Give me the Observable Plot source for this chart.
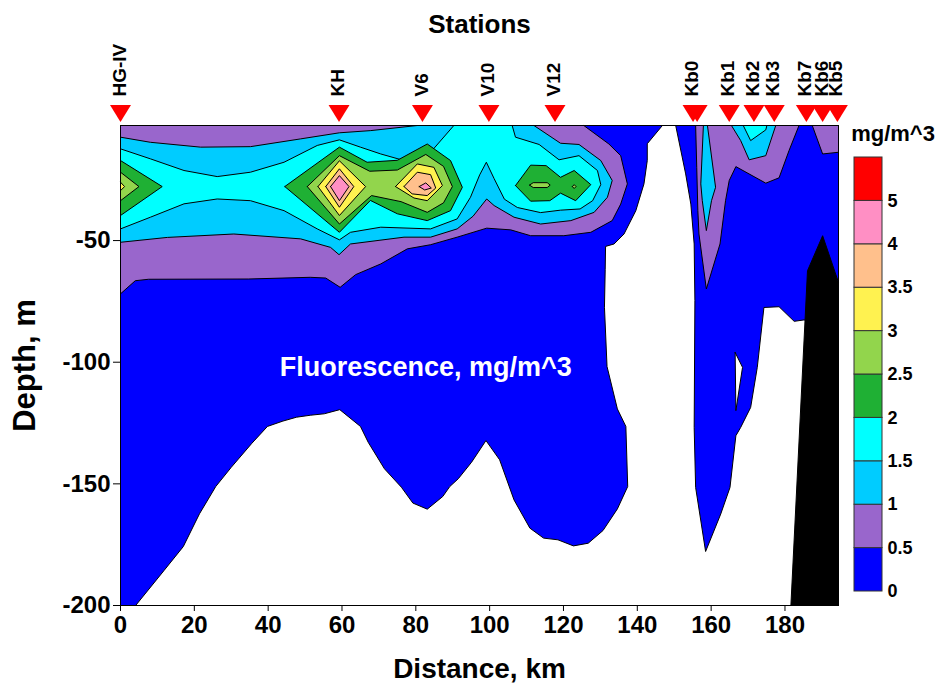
<!DOCTYPE html>
<html><head><meta charset="utf-8">
<script src="https://cdn.jsdelivr.net/npm/d3@7"></script>
<script src="https://cdn.jsdelivr.net/npm/@observablehq/plot@0.6"></script>
<style>
body{margin:0;background:#fff;}
#wrap{position:relative;width:939px;height:683px;font-family:"Liberation Sans",Arial,sans-serif;}
#wrap svg{position:absolute;top:0;}
</style></head><body><div id="wrap"></div>
<script>
// ---- legend / levels ----
const levelLabels = ["0","0.5","1","1.5","2","2.5","3","3.5","4","5"];
const levelColors = ["#0000ff","#9966cc","#00ccff","#00ffff","#1fb034","#92d54c","#fff250","#ffc08c","#ff8fc4","#ff0000"];
// ---- stations ----
const stationNames = ["HG-IV","KH","V6","V10","V12","Kb0","","Kb1","Kb2","Kb3","Kb7","Kb6","Kb5"];
const stationKm    = [0, 59.2, 81.8, 99.8, 117.7, 155.1, 156.2, 164.9, 171.6, 177.1, 185.8, 190.2, 194.2];
// ---- ticks ----
const xTicks = [0,20,40,60,80,100,120,140,160,180];
const yTicks = [-50,-100,-150,-200];
const xDomain = [0,194.5];
const yDomain = [-200,-2.7];
// ---- contour polygons [km, depth] ----
const blueMain = [[0,-2.7],[146.8,-2.7],[142.7,-10.2],[142.7,-17.1],[141.8,-26.7],[139.6,-37.7],[136.4,-47.3],[133.7,-51.4],[131.4,-52.4],[131.3,-62],[131.1,-77.4],[131.8,-101.8],[134.6,-119.2],[136.9,-126.4],[137.4,-151.1],[134.6,-160.3],[130.7,-169.2],[126.7,-174.4],[122.7,-175.5],[118.5,-173.0],[114.6,-172.3],[110.9,-168.2],[106.6,-156.6],[102.7,-140.1],[99.0,-132.2],[95.1,-141.1],[91.5,-147.9],[89.2,-151.1],[87.3,-155.2],[83.1,-160.4],[79.2,-157.9],[76.1,-151.4],[71.5,-143.8],[67.1,-132.9],[65.0,-126.4],[59.4,-119.5],[55.2,-121.2],[51.4,-121.8],[47.7,-122.6],[44.0,-124.2],[39.8,-126.4],[35.6,-133.3],[30.0,-143.2],[25.8,-151.1],[21.4,-162.3],[17.0,-175.8],[11.8,-185.6],[4.1,-200],[0,-200]];
const blueEast = [[150.4,-2.7],[194.5,-2.7],[194.5,-90],[185.2,-82.6],[182.5,-83.2],[178.4,-77.2],[174.3,-77.5],[172.5,-102.1],[170.7,-118.6],[168.0,-126.8],[166.7,-130.2],[165.1,-151.5],[162.6,-162.4],[158.5,-177.8],[155.8,-151.5],[155.4,-126.8],[155.6,-74.7],[155.4,-51.4],[154.5,-35],[153.1,-22.6]];
const holeEast = [[166.5,-96.0],[168.5,-102.1],[166.7,-119.9]];
const purpleMain = [[0,-2.7],[125.5,-2.7],[132.3,-10.3],[135.5,-15.1],[137.3,-26.7],[135.5,-35.0],[133.2,-41.8],[127.4,-46.6],[120.1,-48.0],[111.1,-48.0],[105.7,-45.6],[99.2,-44.9],[91.2,-48.6],[84.0,-51.7],[77.7,-53.4],[70.5,-59.6],[63.7,-64.0],[59.5,-69.2],[55.6,-65.4],[51.4,-65.1],[34.6,-65.8],[7.6,-65.9],[4.0,-66.5],[0,-71.9]];
const purpleKb = [[155.8,-2.7],[183.8,-2.7],[181.1,-13.0],[178.4,-24.2],[174.8,-26.4],[166.7,-19.6],[164.9,-25.3],[163.9,-33.6],[162.4,-51.4],[158.7,-69.9],[156.7,-47.3],[156.4,-37.7],[156.1,-19.9]];
const purpleKb5 = [[187.4,-2.7],[194.5,-2.7],[194.5,-13.7],[190.2,-14.4]];
const lblueMain = [[0,-7.5],[8.1,-9.6],[21.7,-11.6],[35.2,-11.4],[48.8,-8.2],[59.3,-5.7],[67.8,-4.8],[80.4,-2.7],[112.0,-2.7],[119.2,-10.0],[124.2,-10.5],[130.1,-17.1],[133.2,-25.3],[131.9,-32.2],[128.3,-38.4],[122.0,-41.8],[113.8,-43.2],[106.6,-40.4],[101.2,-35.6],[99.2,-32.9],[95.5,-40.0],[91.2,-45.2],[84.0,-48.6],[76.8,-48.6],[62.3,-51.4],[59.2,-55.8],[56.9,-52.8],[48.8,-49.3],[30.7,-47.3],[12.7,-48.7],[0,-50.7]];
const lblueKb0 = [[157.9,-2.7],[159.0,-2.7],[161.2,-28.1],[160.1,-33.6],[158.7,-45.9],[157.6,-33.6],[157.2,-26.7]];
const lblueKb2 = [[165.5,-2.7],[168.0,-8.9],[170.3,-16.8],[174.8,-15.1],[177.5,-2.7]];
const cyanMain = [[0,-12.3],[8.1,-16.4],[17.2,-21.2],[26.2,-23.7],[35.2,-21.9],[44.3,-17.8],[53.3,-10.9],[59.3,-8.6],[65.0,-11.6],[70.5,-14.4],[76.8,-17.1],[84.0,-13.7],[90.3,-2.7],[106.1,-2.7],[107.0,-7.5],[113.4,-10.5],[118.8,-16.8],[124.2,-15.1],[129.2,-21.2],[130.1,-27.0],[127.9,-33.6],[124.5,-37.0],[119.2,-37.5],[113.8,-38.5],[107.5,-36.4],[104.0,-33.0],[101.2,-24.5],[99.1,-17.8],[97.3,-23.0],[94.8,-32.2],[91.2,-41.1],[84.0,-45.2],[70.5,-44.5],[62.3,-46.6],[59.3,-49.7],[53.3,-45.2],[44.3,-37.7],[35.2,-33.6],[26.2,-32.9],[17.2,-34.9],[8.1,-40.4],[0,-45.2]];
const cyanKb2 = [[168.7,-2.7],[170.7,-8.9],[174.8,-4.5],[175.1,-2.7]];
const greenWest = [[0,-17.1],[11.3,-27.8],[0,-39.7]];
const greenKH = [[44.5,-27.8],[59.3,-11.6],[66.8,-17.8],[75.0,-17.0],[83.1,-10.3],[89.4,-17.1],[92.6,-28.1],[89.4,-37.7],[83.1,-41.8],[75.0,-39.0],[67.7,-33.5],[59.3,-46.6]];
const greenV12 = [[107.0,-27.4],[111.1,-19.0],[115.3,-19.2],[119.2,-24.0],[122.9,-21.2],[127.4,-27.0],[123.3,-33.6],[119.2,-30.5],[116.3,-33.6],[111.1,-33.8]];
const lgreenWest = [[0,-21.9],[5.0,-27.8],[0,-33.6]];
const lgreenKH = [[50.6,-27.8],[59.3,-15.1],[67.5,-21.5],[75.0,-21.0],[82.7,-14.6],[87.5,-19.5],[89.9,-27.8],[87.5,-34.5],[83.1,-38.4],[76.0,-34.0],[68.0,-31.5],[59.3,-43.2]];
const lgreenV12a = [[110.8,-27.2],[111.8,-26.2],[115.6,-26.2],[116.4,-27.2],[115.6,-28.2],[111.8,-28.2]];
const lgreenV12b = [[122.4,-27.8],[122.9,-27.0],[123.4,-27.8],[122.9,-28.6]];
const yellowWest = [[0,-26.0],[1.1,-27.8],[0,-29.5]];
const yellowKH = [[53.5,-27.8],[59.3,-17.2],[66.4,-27.8],[59.3,-39.7]];
const yellowV6 = [[74.5,-27.8],[80.4,-18.5],[84.9,-19.9],[87.2,-27.4],[83.1,-33.6],[79.5,-32.5]];
const orangeKH = [[55.6,-27.8],[59.3,-20.5],[63.2,-27.8],[59.3,-36.3]];
const orangeV6 = [[76.8,-27.8],[80.4,-21.9],[84.0,-22.9],[85.4,-28.4],[83.1,-31.5],[79.0,-30.8]];
const pinkKH = [[56.9,-27.8],[59.3,-23.3],[61.9,-27.8],[59.3,-33.6]];
const pinkV6 = [[80.9,-27.8],[82.7,-26.3],[84.2,-28.4],[82.4,-29.2]];
const seabed = [[181.6,-200],[186.1,-62.4],[190.2,-48.0],[194.5,-67.2],[194.5,-200]];
const annotation = {km: 82.7, depth: -102.3, text: "Fluorescence, mg/m^3"};

const C = levelColors;
const layers = [
  [blueMain,C[0]],[blueEast,C[0]],[holeEast,"white"],
  [purpleMain,C[1]],[purpleKb,C[1]],[purpleKb5,C[1]],
  [lblueMain,C[2]],[lblueKb0,C[2]],[lblueKb2,C[2]],
  [cyanMain,C[3]],[cyanKb2,C[3]],
  [greenWest,C[4]],[greenKH,C[4]],[greenV12,C[4]],
  [lgreenWest,C[5]],[lgreenKH,C[5]],[lgreenV12a,C[5]],[lgreenV12b,C[5]],
  [yellowWest,C[6]],[yellowKH,C[6]],[yellowV6,C[6]],
  [orangeKH,C[7]],[orangeV6,C[7]],
  [pinkKH,C[8]],[pinkV6,C[8]],
  [seabed,"black"]
];
const ring = p => [...p, p[0]];
const stations = stationNames.map((name,i)=>({name, km: stationKm[i]}));

const downTriangle = {draw(ctx, size){
  const s = Math.sqrt(size); const w = s*1.48, h = s*1.2;
  ctx.moveTo(-w/2,-h/2); ctx.lineTo(w/2,-h/2); ctx.lineTo(0,h/2); ctx.closePath();
}};

const font = '"Liberation Sans", Arial, sans-serif';
const main = Plot.plot({
  width: 939, height: 683,
  marginLeft: 120, marginRight: 101, marginTop: 125, marginBottom: 78,
  style: {fontFamily: font, fontSize: "24px", fontWeight: "bold", background: "transparent", overflow: "visible"},
  x: {domain: xDomain, ticks: xTicks, tickSize: 6, tickPadding: 4, label: null, tickFormat: d => String(d)},
  y: {domain: yDomain, ticks: yTicks, tickSize: 7, tickPadding: 3, label: null, tickFormat: d => String(d)},
  marks: [
    ...layers.map(([poly,color]) => Plot.line(ring(poly), {x: d=>d[0], y: d=>d[1], fill: color, stroke: "black", strokeWidth: 1, curve: "linear"})),
    Plot.frame({stroke: "black", strokeWidth: 1}),
    Plot.text([annotation], {x: "km", y: "depth", text: "text", fill: "white", fontSize: 27, fontWeight: "bold"}),
    Plot.dot(stations, {x: "km", frameAnchor: "top", dy: -12, symbol: downTriangle, r: 8, fill: "red", stroke: "none"}),
    Plot.text(stations, {x: "km", text: "name", frameAnchor: "top", dy: -29, dx: -1, rotate: -90, textAnchor: "start", lineAnchor: "middle", fontSize: 19, fontWeight: "bold"}),
    Plot.text(["Stations"], {frameAnchor: "top", dy: -101, text: d=>d, textAnchor: "middle", lineAnchor: "middle", fontSize: 26, fontWeight: "bold"}),
    Plot.text(["Distance, km"], {frameAnchor: "bottom", dy: 64, text: d=>d, textAnchor: "middle", lineAnchor: "middle", fontSize: 28, fontWeight: "bold"}),
    Plot.text(["Depth, m"], {frameAnchor: "left", dx: -95, rotate: -90, text: d=>d, textAnchor: "middle", lineAnchor: "middle", fontSize: 31, fontWeight: "bold"})
  ]
});

const legendIdx = levelColors.map((c,i)=>i);
const legend = Plot.plot({
  width: 99, height: 683, margin: 0,
  style: {fontFamily: font, fontWeight: "bold", background: "transparent", overflow: "visible"},
  x: {domain: [0,1], range: [14,42], axis: null},
  y: {domain: [0,10], range: [591,157], axis: null},
  color: {type: "identity"},
  marks: [
    Plot.rect(legendIdx, {x1: 0, x2: 1, y1: i=>i, y2: i=>i+1, fill: i=>levelColors[i], stroke: "#333", strokeWidth: 1}),
    Plot.text(legendIdx, {x: 1, y: i=>i, text: i=>levelLabels[i], dx: 5, textAnchor: "start", fontSize: 18, fontWeight: "bold"}),
    Plot.text(["mg/m^3"], {frameAnchor: "top", dy: 133, dx: 3, text: d=>d, textAnchor: "middle", lineAnchor: "middle", fontSize: 22, fontWeight: "bold"})
  ]
});
legend.style.left = "840px";
const wrap = document.getElementById("wrap");
main.style.left = "0px";
wrap.appendChild(main);
wrap.appendChild(legend);
</script></body></html>
